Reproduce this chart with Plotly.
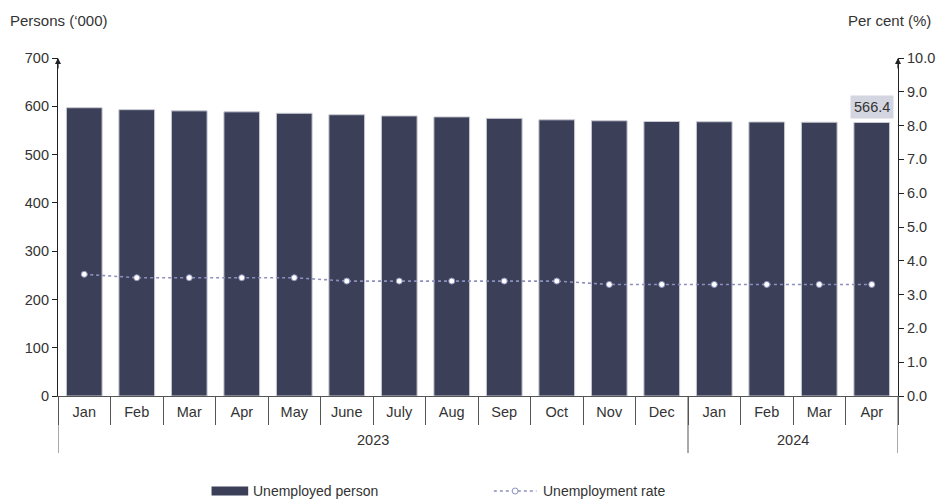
import plotly.graph_objects as go

# Monthly labour force figures
months = ["Jan", "Feb", "Mar", "Apr", "May", "June", "July", "Aug", "Sep", "Oct", "Nov", "Dec",
          "Jan", "Feb", "Mar", "Apr"]
years = ["2023"] * 12 + ["2024"] * 4
unemployed_thousand = [597.0, 593.0, 590.5, 588.5, 585.5, 582.5, 580.0, 578.0, 575.0, 572.0,
                       570.0, 568.5, 568.0, 567.5, 567.0, 566.4]
unemployment_rate = [3.6, 3.5, 3.5, 3.5, 3.5, 3.4, 3.4, 3.4, 3.4, 3.4, 3.3, 3.3, 3.3, 3.3, 3.3, 3.3]
series_names = ["Unemployed person", "Unemployment rate"]

# Unique category keys (month + year) so repeated month names stay distinct
periods = [f"{m} {y}" for m, y in zip(months, years)]

BAR_COLOR = "#3b3f58"
LINE_COLOR = "#8d90bd"
AXIS_COLOR = "#555555"
TEXT_COLOR = "#333333"
FONT = "Liberation Sans, Arial, sans-serif"

PLOT_L, PLOT_T = 58, 58
PLOT_W, PLOT_H = 848, 338
LEGEND_Y = 491  # vertical centre of the legend row, in pixels from the top


def px_x(px):
    return (px - PLOT_L) / PLOT_W


def px_y(py):
    return 1 - (py - PLOT_T) / PLOT_H


fig = go.Figure()

fig.add_trace(go.Bar(
    x=periods,
    y=unemployed_thousand,
    name=series_names[0],
    marker=dict(color=BAR_COLOR, line=dict(color="#c9cad3", width=1)),
    yaxis="y",
))

fig.add_trace(go.Scatter(
    x=periods,
    y=unemployment_rate,
    name=series_names[1],
    mode="lines+markers",
    line=dict(color=LINE_COLOR, width=1.6, dash="dot"),
    marker=dict(color="white", size=6, line=dict(color=LINE_COLOR, width=1)),
    yaxis="y2",
))

# Value label on the latest month
fig.add_annotation(
    x=periods[-1], y=unemployed_thousand[-1], xref="x", yref="y",
    text=f"{unemployed_thousand[-1]:.1f}", showarrow=False,
    yanchor="bottom", yshift=4,
    bgcolor="#d3d5e0", borderpad=3,
    font=dict(family=FONT, size=14.5, color=TEXT_COLOR),
)

# Arrowheads on top of both value axes
for xpos in (0, 1):
    fig.add_annotation(
        x=xpos, y=1.0, xref="paper", yref="paper", ax=0, ay=12,
        text="", showarrow=True, arrowhead=2, arrowsize=1, arrowwidth=1.2,
        arrowcolor="#222222",
    )

# Axis titles
fig.add_annotation(
    x=px_x(8), y=px_y(20), xref="paper", yref="paper",
    text="Persons (\u2018000)", showarrow=False, xanchor="left", yanchor="middle",
    font=dict(family=FONT, size=15, color=TEXT_COLOR),
)
fig.add_annotation(
    x=px_x(941), y=px_y(20), xref="paper", yref="paper",
    text="Per cent (%)", showarrow=False, xanchor="right", yanchor="middle",
    font=dict(family=FONT, size=15, color=TEXT_COLOR),
)

# Year group labels and dividers below the month ticks
groups = []
for i, y in enumerate(years):
    if not groups or groups[-1][0] != y:
        groups.append([y, i, i])
    else:
        groups[-1][2] = i

divider_positions = [groups[0][1] - 0.5] + [g[2] + 0.5 for g in groups]
for xb in divider_positions:
    fig.add_shape(
        type="line", xref="x", yref="paper",
        x0=xb, x1=xb, y0=0, y1=px_y(453),
        line=dict(color=AXIS_COLOR, width=1),
    )
for label, start, end in groups:
    fig.add_annotation(
        x=(start + end) / 2, y=px_y(440), xref="x", yref="paper",
        text=label, showarrow=False, yanchor="middle",
        font=dict(family=FONT, size=14.5, color=TEXT_COLOR),
    )

# Legend row: bar key, dotted line key with hollow marker, and labels
fig.add_shape(
    type="rect", xref="paper", yref="paper",
    x0=px_x(213), x1=px_x(250), y0=px_y(LEGEND_Y + 4.5), y1=px_y(LEGEND_Y - 4.5),
    fillcolor=BAR_COLOR, line=dict(width=0),
)
fig.add_shape(
    type="line", xref="paper", yref="paper",
    x0=px_x(498), x1=px_x(541), y0=px_y(LEGEND_Y), y1=px_y(LEGEND_Y),
    line=dict(color=LINE_COLOR, width=1.6, dash="dot"),
)
fig.add_shape(
    type="circle", xref="paper", yref="paper",
    x0=px_x(516.5), x1=px_x(522.5), y0=px_y(LEGEND_Y + 3), y1=px_y(LEGEND_Y - 3),
    fillcolor="white", line=dict(color=LINE_COLOR, width=1),
)
for name, text_x in zip(series_names, (253, 546)):
    fig.add_annotation(
        x=px_x(text_x), y=px_y(LEGEND_Y), xref="paper", yref="paper",
        text=name, showarrow=False, xanchor="left", yanchor="middle",
        font=dict(family=FONT, size=14, color=TEXT_COLOR),
    )

fig.update_layout(
    width=947, height=501,
    margin=dict(l=PLOT_L, r=947 - PLOT_L - PLOT_W, t=PLOT_T, b=501 - PLOT_T - PLOT_H),
    paper_bgcolor="white", plot_bgcolor="white",
    font=dict(family=FONT, size=14.5, color=TEXT_COLOR),
    bargap=0.32,
    showlegend=False,
    xaxis=dict(
        type="category",
        range=[-0.5, len(periods) - 0.5],
        tickmode="array", tickvals=periods, ticktext=months,
        tickson="boundaries",
        showline=True, linecolor=AXIS_COLOR, linewidth=1,
        ticks="outside", ticklen=28, tickcolor=AXIS_COLOR,
        ticklabelstandoff=3,
        showgrid=False,
        tickfont=dict(family=FONT, size=14.5, color=TEXT_COLOR),
    ),
    yaxis=dict(
        range=[0, 700], dtick=100,
        showline=True, linecolor="#222222", linewidth=1.2,
        ticks="outside", ticklen=5, tickcolor="#222222",
        showgrid=False, zeroline=False,
        tickfont=dict(family=FONT, size=14.5, color=TEXT_COLOR),
    ),
    yaxis2=dict(
        range=[0, 10], dtick=1, tickformat=".1f",
        overlaying="y", side="right",
        showline=True, linecolor="#222222", linewidth=1.2,
        ticks="outside", ticklen=5, tickcolor="#222222",
        showgrid=False, zeroline=False,
        tickfont=dict(family=FONT, size=14.5, color=TEXT_COLOR),
    ),
)

fig.write_html("out.html")
